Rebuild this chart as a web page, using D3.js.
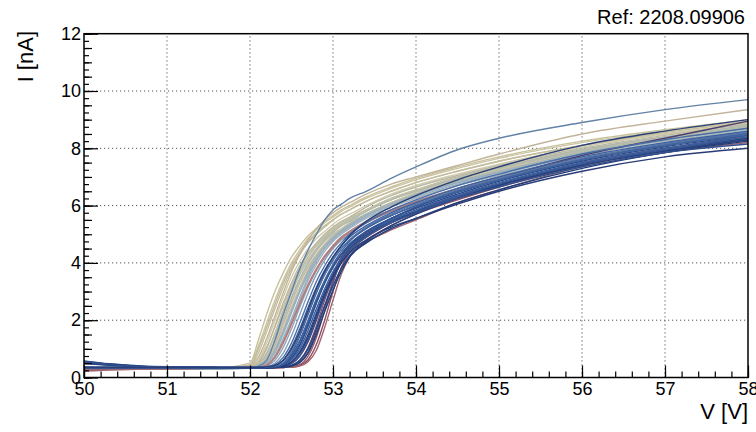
<!DOCTYPE html>
<html>
<head>
<meta charset="utf-8">
<script src="https://cdn.jsdelivr.net/npm/d3@7"></script>
<style>
  body { margin: 0; background: #fff; }
  svg { display: block; font-family: "Liberation Sans", Arial, Helvetica, sans-serif; }
</style>
</head>
<body>
<svg id="chart" width="756" height="432"></svg>
<script>
// Bias voltage grid shared by every IV scan (V)
const voltage = [50, 50.3, 50.7, 51.5, 52, 52.1, 52.2, 52.3, 52.4, 52.5, 52.6, 52.7, 52.8,
  52.9, 53, 53.1, 53.2, 53.4, 53.7, 54, 54.5, 55, 56, 57, 58];

// Currents (nA), one row per scan
const beigeRuns = [
  [0.3,0.3,0.3,0.31,0.5,1.3,2.2,3.0,3.65,4.2,4.6,4.95,5.2,5.45,5.65,5.85,6.0,6.3,6.65,6.95,7.35,7.7,8.25,8.65,9.0],
  [0.28,0.29,0.3,0.31,0.45,1.1,1.9,2.7,3.4,4.0,4.45,4.85,5.15,5.4,5.6,5.8,5.95,6.25,6.6,6.9,7.3,7.65,8.2,8.6,8.95],
  [0.29,0.29,0.3,0.31,0.42,1.0,1.75,2.55,3.3,3.9,4.35,4.75,5.05,5.3,5.5,5.7,5.85,6.15,6.5,6.8,7.2,7.55,8.1,8.5,8.85],
  [0.3,0.3,0.31,0.32,0.4,0.85,1.6,2.4,3.15,3.8,4.3,4.7,5.0,5.25,5.5,5.7,5.85,6.15,6.5,6.8,7.2,7.55,8.1,8.55,8.9],
  [0.3,0.3,0.3,0.31,0.37,0.6,1.2,2.0,2.8,3.5,4.05,4.5,4.85,5.1,5.35,5.55,5.7,6.0,6.4,6.7,7.1,7.45,8.05,8.5,8.85],
  [0.32,0.31,0.31,0.32,0.35,0.45,0.85,1.55,2.35,3.1,3.7,4.2,4.6,4.9,5.15,5.35,5.55,5.85,6.25,6.55,7.0,7.35,7.95,8.4,8.8],
  [0.3,0.3,0.3,0.31,0.36,0.55,1.05,1.75,2.5,3.2,3.8,4.3,4.65,4.95,5.2,5.4,5.55,5.85,6.25,6.55,6.95,7.3,7.9,8.35,8.75],
  [0.29,0.3,0.3,0.31,0.34,0.4,0.65,1.2,1.95,2.7,3.4,3.95,4.4,4.75,5.0,5.2,5.4,5.7,6.1,6.45,6.9,7.25,7.9,8.35,8.7],
  [0.31,0.31,0.31,0.32,0.36,0.5,1.0,1.8,2.6,3.3,3.9,4.35,4.7,5.0,5.25,5.45,5.6,5.95,6.35,6.65,7.05,7.4,8.0,8.45,8.85],
  [0.3,0.3,0.3,0.31,0.33,0.37,0.55,1.0,1.7,2.45,3.15,3.75,4.25,4.6,4.9,5.1,5.3,5.65,6.05,6.35,6.8,7.2,7.85,8.3,8.7],
  [0.3,0.3,0.3,0.31,0.38,0.7,1.35,2.15,2.95,3.7,4.3,4.8,5.2,5.5,5.75,5.95,6.1,6.4,6.75,7.0,7.4,7.8,8.5,8.95,9.35],
  [0.28,0.29,0.29,0.3,0.33,0.38,0.6,1.1,1.85,2.6,3.3,3.85,4.3,4.65,4.95,5.15,5.35,5.7,6.1,6.4,6.85,7.2,7.85,8.25,8.6]
];
const steelRuns = [
  [0.32,0.31,0.31,0.32,0.33,0.36,0.48,0.85,1.5,2.25,3.0,3.65,4.15,4.55,4.85,5.1,5.3,5.65,6.05,6.35,6.8,7.15,7.8,8.25,8.65],
  [0.3,0.3,0.3,0.31,0.33,0.35,0.42,0.7,1.25,1.95,2.7,3.4,3.95,4.4,4.75,5.0,5.2,5.55,5.95,6.25,6.7,7.05,7.7,8.2,8.6],
  [0.31,0.31,0.31,0.32,0.34,0.4,0.7,1.3,2.05,2.8,3.45,4.0,4.45,4.8,5.05,5.3,5.45,5.8,6.2,6.5,6.95,7.3,7.95,8.4,8.8],
  [0.33,0.32,0.32,0.32,0.33,0.35,0.4,0.6,1.05,1.7,2.45,3.15,3.75,4.2,4.6,4.9,5.1,5.45,5.85,6.15,6.6,7.0,7.65,8.15,8.55],
  [0.3,0.3,0.3,0.31,0.33,0.36,0.45,0.75,1.35,2.05,2.8,3.5,4.05,4.5,4.85,5.1,5.3,5.65,6.05,6.35,6.8,7.15,7.8,8.3,8.7],
  [0.31,0.31,0.31,0.31,0.33,0.35,0.38,0.5,0.85,1.45,2.2,2.95,3.6,4.1,4.5,4.8,5.0,5.4,5.8,6.1,6.55,6.95,7.6,8.1,8.5],
  [0.29,0.3,0.3,0.3,0.32,0.36,0.5,0.9,1.6,2.35,3.05,3.7,4.2,4.6,4.9,5.15,5.35,5.7,6.05,6.4,6.85,7.2,7.85,8.3,8.75],
  [0.31,0.31,0.31,0.31,0.35,0.45,0.8,1.45,2.2,2.95,3.6,4.1,4.5,4.85,5.1,5.3,5.5,5.8,6.2,6.5,6.95,7.3,7.9,8.35,8.75],
  [0.3,0.3,0.3,0.31,0.33,0.37,0.52,0.95,1.6,2.3,3.0,3.6,4.1,4.5,4.8,5.05,5.25,5.6,6.0,6.3,6.75,7.1,7.75,8.2,8.6],
  [0.32,0.32,0.32,0.32,0.33,0.36,0.44,0.72,1.25,1.9,2.6,3.25,3.8,4.25,4.6,4.9,5.1,5.45,5.85,6.15,6.6,7.0,7.65,8.15,8.55],
  [0.3,0.3,0.3,0.31,0.34,0.4,0.6,1.3,2.2,3.0,3.8,4.45,5.0,5.5,5.85,6.05,6.25,6.5,6.95,7.35,7.95,8.35,8.9,9.35,9.7]
];
const redRuns = [
  [0.25,0.28,0.3,0.32,0.33,0.33,0.34,0.34,0.35,0.37,0.45,0.75,1.4,2.35,3.3,4.1,4.5,4.9,5.4,5.75,6.3,6.75,7.5,8.0,8.4],
  [0.3,0.31,0.32,0.33,0.33,0.33,0.34,0.34,0.35,0.36,0.42,0.62,1.15,2.0,3.0,3.85,4.35,4.8,5.3,5.7,6.2,6.65,7.4,7.9,8.3],
  [0.33,0.33,0.33,0.33,0.33,0.34,0.34,0.35,0.36,0.4,0.55,0.9,1.6,2.5,3.35,4.05,4.45,4.9,5.4,5.75,6.25,6.7,7.4,7.9,8.3],
  [0.22,0.26,0.29,0.32,0.33,0.33,0.34,0.34,0.35,0.36,0.4,0.55,0.95,1.75,2.7,3.6,4.2,4.7,5.15,5.5,6.1,6.55,7.35,7.85,8.2],
  [0.34,0.34,0.34,0.34,0.34,0.34,0.35,0.36,0.4,0.5,0.75,1.25,2.0,2.85,3.6,4.2,4.6,5.05,5.55,5.95,6.5,6.95,7.75,8.35,8.95],
  [0.31,0.31,0.32,0.33,0.33,0.33,0.34,0.35,0.37,0.43,0.6,1.05,1.8,2.7,3.5,4.15,4.5,4.95,5.45,5.8,6.3,6.75,7.45,7.95,8.35],
  [0.31,0.31,0.31,0.32,0.33,0.35,0.42,0.7,1.2,1.85,2.55,3.2,3.75,4.2,4.55,4.85,5.05,5.4,5.8,6.1,6.55,6.95,7.6,8.1,8.5]
];
const blueRuns = [
  [0.58,0.48,0.4,0.35,0.34,0.34,0.35,0.38,0.5,0.85,1.45,2.2,2.95,3.6,4.1,4.5,4.8,5.2,5.65,6.0,6.5,6.9,7.6,8.1,8.5],
  [0.55,0.46,0.39,0.35,0.34,0.34,0.35,0.36,0.42,0.65,1.1,1.8,2.6,3.3,3.85,4.3,4.65,5.1,5.55,5.9,6.4,6.85,7.55,8.05,8.45],
  [0.36,0.35,0.35,0.35,0.35,0.35,0.36,0.4,0.6,1.05,1.7,2.45,3.15,3.75,4.2,4.6,4.9,5.3,5.75,6.1,6.6,7.0,7.7,8.2,8.6],
  [0.34,0.34,0.34,0.34,0.34,0.34,0.35,0.36,0.4,0.55,0.9,1.5,2.25,3.0,3.6,4.1,4.5,4.95,5.45,5.8,6.35,6.75,7.45,7.95,8.35],
  [0.52,0.44,0.38,0.35,0.34,0.34,0.34,0.35,0.38,0.48,0.75,1.3,2.05,2.8,3.45,4.0,4.4,4.9,5.4,5.75,6.3,6.75,7.45,7.95,8.4],
  [0.35,0.35,0.35,0.35,0.35,0.36,0.38,0.45,0.7,1.2,1.9,2.65,3.35,3.9,4.35,4.7,5.0,5.4,5.85,6.2,6.7,7.1,7.8,8.3,8.7],
  [0.36,0.35,0.35,0.35,0.35,0.35,0.35,0.37,0.45,0.7,1.15,1.85,2.6,3.3,3.85,4.3,4.65,5.1,5.55,5.95,6.45,6.9,7.6,8.15,8.55],
  [0.56,0.47,0.39,0.35,0.34,0.34,0.34,0.35,0.37,0.42,0.6,1.0,1.7,2.5,3.2,3.8,4.25,4.75,5.3,5.7,6.25,6.7,7.4,7.9,8.3],
  [0.34,0.34,0.34,0.34,0.34,0.34,0.35,0.37,0.43,0.62,1.0,1.65,2.4,3.1,3.7,4.15,4.55,5.0,5.5,5.85,6.35,6.8,7.5,8.0,8.45],
  [0.35,0.35,0.35,0.35,0.35,0.35,0.36,0.39,0.52,0.9,1.5,2.25,3.0,3.6,4.1,4.5,4.8,5.25,5.7,6.05,6.55,6.95,7.65,8.15,8.55],
  [0.5,0.43,0.38,0.35,0.34,0.34,0.34,0.35,0.36,0.4,0.52,0.85,1.5,2.3,3.05,3.7,4.2,4.7,5.2,5.55,6.1,6.55,7.3,7.85,8.25],
  [0.35,0.35,0.35,0.35,0.35,0.35,0.35,0.36,0.4,0.55,0.85,1.4,2.15,2.9,3.5,4.0,4.35,4.8,5.25,5.55,6.05,6.5,7.2,7.7,8.0],
  [0.54,0.45,0.38,0.35,0.34,0.34,0.35,0.37,0.46,0.75,1.25,1.95,2.7,3.35,3.9,4.3,4.6,5.0,5.45,5.75,6.25,6.65,7.35,7.85,8.15],
  [0.35,0.35,0.35,0.35,0.35,0.35,0.36,0.38,0.48,0.8,1.3,2.0,2.75,3.4,3.95,4.4,4.75,5.2,5.65,6.0,6.5,6.9,7.6,8.1,8.5],
  [0.35,0.35,0.35,0.35,0.35,0.35,0.37,0.42,0.6,1.0,1.6,2.35,3.1,3.7,4.2,4.6,4.95,5.45,5.95,6.35,6.9,7.35,8.1,8.6,9.0]
];

// Line colours, one per row above
const beigeColors = ['#c8c29c','#cbc5a5','#c0bb98','#c4bea0','#d2cbab','#bfb9a0','#c6c0a0','#c9c2a8','#b8b8a4','#c6bfa2','#c2b49a','#bcbaa6'];
const steelColors = ['#a8b6b6','#9fb2bc','#b0b8ae','#8fa6bc','#98aec0','#86a0bc','#a4b4b4','#b4bcaa','#9ab0c2','#b08080','#6282a6'];
const redColors = ['#9a5c6a','#8c4e62','#6a4f7a','#a06470','#4e3f6e','#7e5470','#b07e7e'];
const blueColors = ['#2c4f92','#2a4a8c','#3d62a0','#274888','#345898','#4a6ea8','#2f5496','#23427f','#3a5c9c','#5676aa','#1f3d7a','#2a3c78','#30508e','#41669f','#283f78'];

const xTicks = [50, 51, 52, 53, 54, 55, 56, 57, 58];
const yTicks = [0, 2, 4, 6, 8, 10, 12];

const svg = d3.select('#chart');
const x = d3.scaleLinear().domain([50, 58]).range([84, 748]);
const y = d3.scaleLinear().domain([0, 12]).range([377.5, 33.7]);

// ── grid ──────────────────────────────────────────────
const grid = svg.append('g').attr('stroke', '#555').attr('stroke-width', 1)
  .attr('stroke-dasharray', '1.2,2.8');
xTicks.slice(1, -1).forEach((v) => {
  grid.append('line').attr('x1', x(v)).attr('x2', x(v)).attr('y1', y(0)).attr('y2', y(12));
});
yTicks.slice(1, -1).forEach((v) => {
  grid.append('line').attr('x1', x(50)).attr('x2', x(58)).attr('y1', y(v)).attr('y2', y(v));
});

// ── curves ────────────────────────────────────────────
svg.append('clipPath').attr('id', 'plot-clip').append('rect')
  .attr('x', x(50)).attr('y', y(12)).attr('width', x(58) - x(50)).attr('height', y(0) - y(12));

const line = d3.line()
  .x((d, i) => x(voltage[i]))
  .y((d) => y(d))
  .curve(d3.curveMonotoneX);

const curves = svg.append('g').attr('clip-path', 'url(#plot-clip)')
  .attr('fill', 'none').attr('stroke-width', 1.4).attr('stroke-linejoin', 'round');

function drawGroup(runs, colors) {
  runs.forEach((run, i) => {
    curves.append('path').attr('d', line(run)).attr('stroke', colors[i]);
  });
}
drawGroup(beigeRuns, beigeColors);
drawGroup(steelRuns, steelColors);
drawGroup(redRuns, redColors);
drawGroup(blueRuns, blueColors);

// ── axes (ROOT style, ticks inside the frame) ─────────
function styleAxis(g) {
  g.select('.domain').remove();
  g.attr('font-family', null).attr('font-size', 18);
  g.selectAll('text').attr('fill', '#000');
  g.selectAll('.tick line').attr('stroke', '#000').attr('stroke-width', 1.2);
}

const minorX = d3.range(50, 58.001, 0.2);
svg.append('g').attr('transform', `translate(0,${y(0)})`)
  .call(d3.axisBottom(x).tickValues(minorX).tickSize(-6).tickFormat(''))
  .call(styleAxis);
svg.append('g').attr('transform', `translate(0,${y(0)})`)
  .call(d3.axisBottom(x).tickValues(xTicks).tickSize(-12).tickPadding(5).tickFormat(d3.format('d')))
  .call(styleAxis);

const tertY = d3.range(0, 12.001, 0.25);
const minorY = d3.range(0, 12.001, 0.5);
svg.append('g').attr('transform', `translate(${x(50)},0)`)
  .call(d3.axisLeft(y).tickValues(tertY).tickSize(-5).tickFormat(''))
  .call(styleAxis);
svg.append('g').attr('transform', `translate(${x(50)},0)`)
  .call(d3.axisLeft(y).tickValues(minorY).tickSize(-8).tickFormat(''))
  .call(styleAxis);
svg.append('g').attr('transform', `translate(${x(50)},0)`)
  .call(d3.axisLeft(y).tickValues(yTicks).tickSize(-14).tickPadding(3).tickFormat(d3.format('d')))
  .call(styleAxis);

// frame
svg.append('rect')
  .attr('x', x(50)).attr('y', y(12))
  .attr('width', x(58) - x(50)).attr('height', y(0) - y(12))
  .attr('fill', 'none').attr('stroke', '#000').attr('stroke-width', 1.5);

// ── titles ────────────────────────────────────────────
svg.append('text').attr('x', 748).attr('y', 419).attr('text-anchor', 'end')
  .attr('font-size', 22).text('V [V]');
svg.append('text').attr('transform', 'translate(33,31) rotate(-90)').attr('text-anchor', 'end')
  .attr('font-size', 22).text('I [nA]');
svg.append('text').attr('x', 745).attr('y', 24).attr('text-anchor', 'end')
  .attr('font-size', 20).text('Ref: 2208.09906');
</script>
</body>
</html>
